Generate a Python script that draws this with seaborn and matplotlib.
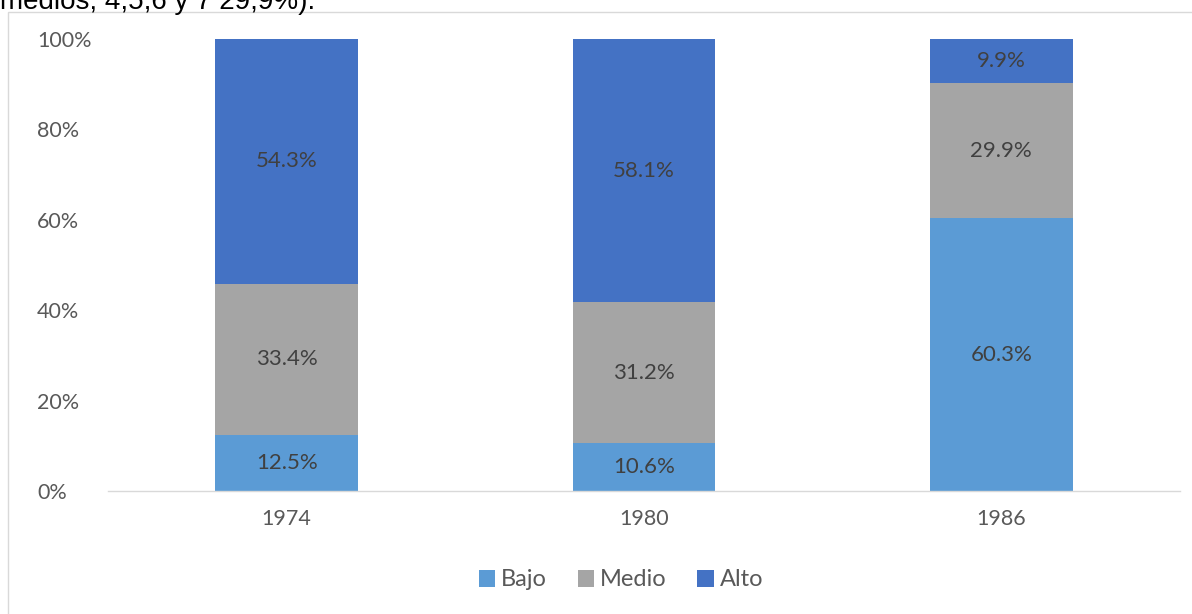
import matplotlib
matplotlib.use("Agg")
import matplotlib.pyplot as plt
import seaborn as sns
import numpy as np
from matplotlib.patches import Rectangle

# datos
YEARS = ["1974", "1980", "1986"]
BAJO = [12.5, 10.6, 60.3]
MEDIO = [33.4, 31.2, 29.9]
ALTO = [54.3, 58.1, 9.9]
SERIES = ["Bajo", "Medio", "Alto"]
COLORS = ["#5B9BD5", "#A5A5A5", "#4472C4"]
Y_TICKS = [0, 20, 40, 60, 80, 100]

sns.set_theme(style="white")
plt.rcParams['font.family'] = ['Lato', 'DejaVu Sans']

W, H = 1192, 614
fig = plt.figure(figsize=(W / 100, H / 100), dpi=100)
ax = fig.add_axes([108 / W, 1 - 491 / H, (1180 - 108) / W, (491 - 39) / H])

# marco del gráfico
fig.patches.append(Rectangle((8 / W, -0.1), 1.2, 1 - 12 / H + 0.1,
                             transform=fig.transFigure, fill=False,
                             edgecolor="#D9D9D9", linewidth=1))

# texto cortado arriba (como en la imagen original)
fig.text(0, 1 - 9 / H, "medios; 4,5,6 y 7 29,9%).", family="Liberation Sans",
         fontsize=20, color="black", va="baseline", ha="left")

bottom = np.zeros(len(YEARS))
for name, vals, col in zip(SERIES, [BAJO, MEDIO, ALTO], COLORS):
    sns.barplot(x=YEARS, y=vals, bottom=bottom, color=col, saturation=1,
                width=0.4, ax=ax, label=name, linewidth=0)
    bottom = bottom + np.array(vals)

for cont in ax.containers:
    vals = [r.get_height() for r in cont]
    ax.bar_label(cont, labels=[f"{v:.1f}%" for v in vals], label_type="center",
                 fontsize=16, color="#404040")

ax.set_xlim(-0.5, 2.5)
ax.set_ylim(0, 100)
ax.set_yticks(Y_TICKS)
ax.set_yticklabels([f"{t}%" for t in Y_TICKS])
ax.tick_params(axis="y", length=0, pad=51, labelsize=15.5, labelcolor="#595959")
for lab in ax.get_yticklabels():
    lab.set_horizontalalignment("left")
ax.tick_params(axis="x", length=0, pad=13, labelsize=15.5, labelcolor="#595959")
ax.set_xlabel("")
ax.set_ylabel("")

sns.despine(ax=ax, left=True, top=True, right=True)
ax.spines["bottom"].set_color("#D9D9D9")
ax.spines["bottom"].set_linewidth(1)
ax.patch.set_alpha(0)

handles, labels = ax.get_legend_handles_labels()
if ax.get_legend() is not None:
    ax.get_legend().remove()
leg = fig.legend(handles, labels, loc="center", bbox_to_anchor=(621 / W, 1 - 580 / H),
                 ncol=3, frameon=False, fontsize=17, handlelength=0.7,
                 handleheight=0.7, handletextpad=0.25, columnspacing=1.3)
for t in leg.get_texts():
    t.set_color("#595959")

fig.savefig("out.png", dpi=100)
